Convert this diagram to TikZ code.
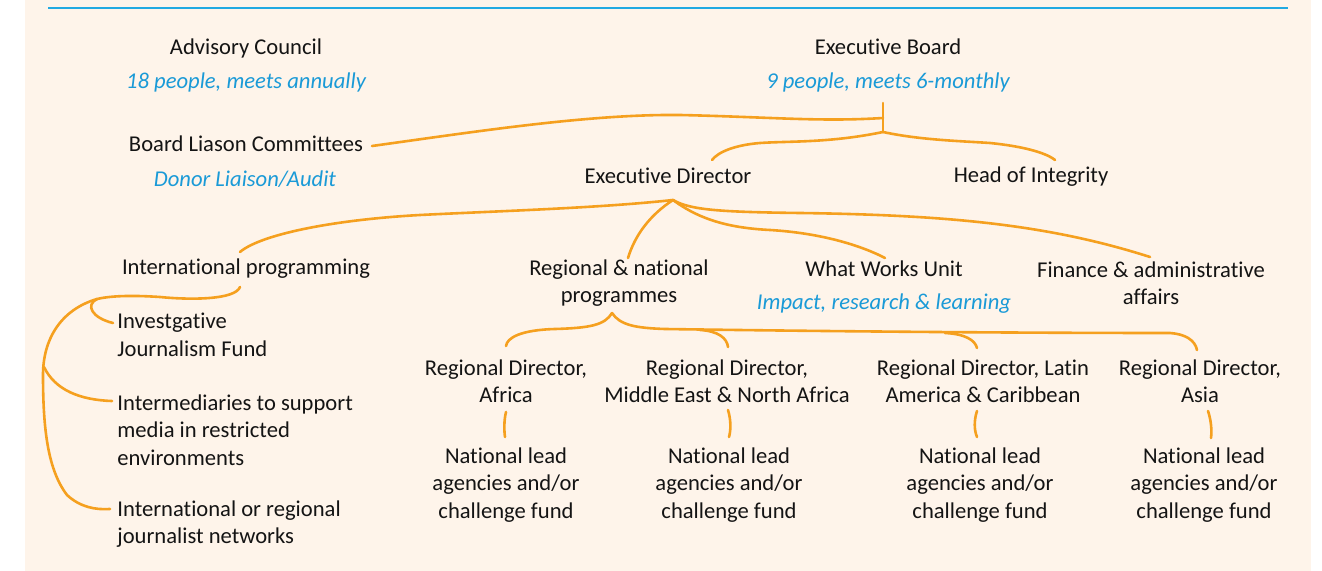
\documentclass[tikz,border=0pt]{standalone}
\usepackage{fontspec}
\setmainfont{Carlito}[Ligatures=NoCommon]
\definecolor{peach}{HTML}{FEF4EA}
\definecolor{orgline}{HTML}{F5A01F}
\definecolor{bluerule}{HTML}{22AAE2}
\definecolor{bluetxt}{HTML}{1A9AD7}
\definecolor{inktxt}{HTML}{141414}
\begin{document}
\begin{tikzpicture}[x=0.5pt,y=-0.5pt,
  lbl/.style={inner sep=0pt,text=inktxt,font=\fontsize{11.3}{13.7}\selectfont,align=center},
  lblleft/.style={inner sep=0pt,text=inktxt,font=\fontsize{11.3}{13.7}\selectfont,align=left,anchor=west},
  sub/.style={inner sep=0pt,text=bluetxt,font=\fontsize{11.3}{13.7}\selectfont\itshape},
  conn/.style={draw=orgline,line width=1.3pt,line cap=round,line join=round}]
\useasboundingbox (0,0) rectangle (1322,571);
\fill[white] (0,0) rectangle (1322,571);
\fill[peach] (25,0) rectangle (1311,571);
\draw[bluerule,line width=0.7pt] (48,8) -- (1288,8);

% nodes
\node[lbl] (ac) at (246,48) {Advisory Council};
\node[sub] (acs) at (246,82) {18 people, meets annually};
\node[lbl] (eb) at (888,47) {Executive Board};
\node[sub] (ebs) at (888,82) {9 people, meets 6-monthly};
\node[lbl] (blc) at (246,144) {Board Liason Committees};
\node[sub] (blcs) at (245,179) {Donor Liaison/Audit};
\node[lbl] (ed) at (668,176) {Executive Director};
\node[lbl] (hoi) at (1031,177) {Head of Integrity};
\node[lbl] (ip) at (246,269) {International programming};
\node[lbl] (rnp) at (619,283) {Regional \& national\\programmes};
\node[lbl] (wwu) at (884,269) {What Works Unit};
\node[sub] (wwus) at (884,304) {Impact, research \& learning};
\node[lbl] (fin) at (1151,283) {Finance \& administrative\\affairs};
\node[lblleft] (ijf) at (117,335) {Investgative\\Journalism Fund};
\node[lblleft] (inter) at (117,430) {Intermediaries to support\\media in restricted\\environments};
\node[lblleft] (irjn) at (117,524) {International or regional\\journalist networks};
\node[lbl] (rda) at (506,381) {Regional Director,\\Africa};
\node[lbl] (rdm) at (727,381) {Regional Director,\\Middle East \& North Africa};
\node[lbl] (rdl) at (983,381) {Regional Director, Latin\\America \& Caribbean};
\node[lbl] (rdas) at (1200,381) {Regional Director,\\Asia};
\node[lbl] (nla) at (506,485) {National lead\\agencies and/or\\challenge fund};
\node[lbl] (nlm) at (729,485) {National lead\\agencies and/or\\challenge fund};
\node[lbl] (nll) at (980,485) {National lead\\agencies and/or\\challenge fund};
\node[lbl] (nlas) at (1204,485) {National lead\\agencies and/or\\challenge fund};

% connector points
\coordinate (ebB) at (883,103);
\coordinate (j1) at (883,132);
\coordinate (blcJ) at (883,118);
\coordinate (blcE) at (372,146);
\coordinate (edT) at (712,160);
\coordinate (hoiT) at (1055,160);
\coordinate (j2) at (673,200);
\coordinate (ipT) at (240,252);
\coordinate (rnpT) at (628,258);
\coordinate (wwuT) at (885,258);
\coordinate (finT) at (1150,257);
\coordinate (ipB) at (240,287);
\coordinate (j3) at (97,299);
\coordinate (ijfE) at (113,323);
\coordinate (j4) at (44,367);
\coordinate (interE) at (112,401);
\coordinate (irjnE) at (110,509);
\coordinate (rnpB) at (612,313);
\coordinate (rdaT) at (506,346);
\coordinate (j5) at (700,330);
\coordinate (rdmT) at (728,347);
\coordinate (j6) at (945,333);
\coordinate (rdlT) at (977,348);
\coordinate (rdasT) at (1197,350);
\coordinate (rdaB) at (506,412);
\coordinate (nlaT) at (505,437);
\coordinate (rdmB) at (728,410);
\coordinate (nlmT) at (729,437);
\coordinate (rdlB) at (977,411);
\coordinate (nllT) at (977,437);
\coordinate (rdasB) at (1208,411);
\coordinate (nlasT) at (1211,438);

% connectors
\draw[conn] (ebB) -- (j1);
\draw[conn] (blcE) .. controls (480,131) and (590,114) .. (680,115) .. controls (770,117) and (820,122) .. (blcJ);
\draw[conn] (j1) .. controls (830,143) and (790,141) .. (760,143) .. controls (735,145) and (718,152) .. (edT);
\draw[conn] (j1) .. controls (920,140) and (960,141) .. (990,143) .. controls (1020,146) and (1045,152) .. (hoiT);
\draw[conn] (j2) .. controls (600,208) and (500,211) .. (420,215) .. controls (330,220) and (260,235) .. (ipT);
\draw[conn] (j2) .. controls (650,215) and (635,235) .. (rnpT);
\draw[conn] (j2) .. controls (700,220) and (730,228) .. (770,230) .. controls (820,233) and (860,245) .. (wwuT);
\draw[conn] (j2) .. controls (690,210) and (720,212) .. (800,213) .. controls (950,215) and (1050,225) .. (finT);
\draw[conn] (ipB) .. controls (235,300) and (190,300) .. (160,297) .. controls (130,295) and (110,296) .. (j3);
\draw[conn] (j3) .. controls (60,310) and (43,340) .. (43,375) .. controls (43,430) and (48,470) .. (67,495) .. controls (80,507) and (95,510) .. (irjnE);
\draw[conn] (j3) .. controls (85,305) and (92,318) .. (ijfE);
\draw[conn] (j4) .. controls (55,390) and (80,400) .. (interE);
\draw[conn] (rnpB) .. controls (605,325) and (590,328) .. (555,329) .. controls (520,330) and (507,338) .. (rdaT);
\draw[conn] (rnpB) .. controls (620,325) and (635,328) .. (665,329) .. controls (800,331) and (1000,333) .. (1170,333) .. controls (1185,334) and (1195,340) .. (rdasT);
\draw[conn] (j5) .. controls (718,331) and (727,338) .. (rdmT);
\draw[conn] (j6) .. controls (965,334) and (975,340) .. (rdlT);
\draw[conn] (rdaB) .. controls (504,420) and (504,430) .. (nlaT);
\draw[conn] (rdmB) .. controls (731,420) and (731,430) .. (nlmT);
\draw[conn] (rdlB) .. controls (974,420) and (974,430) .. (nllT);
\draw[conn] (rdasB) .. controls (1211,420) and (1212,430) .. (nlasT);
\end{tikzpicture}
\end{document}
